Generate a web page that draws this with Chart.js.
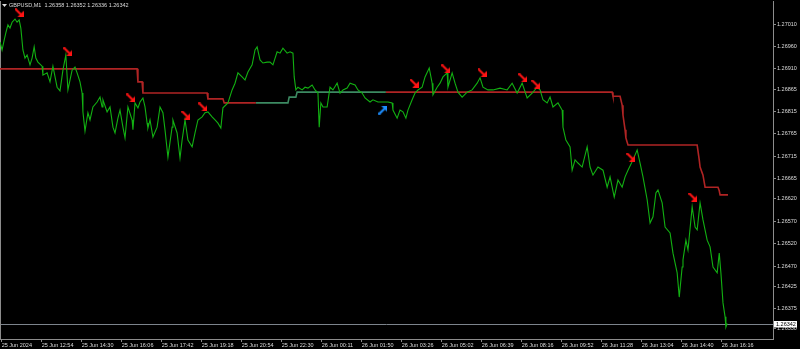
<!DOCTYPE html>
<html><head><meta charset="utf-8">
<script src="https://cdn.jsdelivr.net/npm/chart.js@4.4.0/dist/chart.umd.min.js"></script>
<style>html,body{margin:0;padding:0;background:#000;overflow:hidden}#wrap{position:relative;width:800px;height:349px}</style>
</head><body><div id="wrap"><canvas id="c"></canvas></div>
<script>
// ---- data (minutes from first bar, prices) ----
const symbol = 'GBPUSD,M1';
const ohlc = ['1.26358', '1.26352', '1.26336', '1.26342'];
const bidPrice = 1.26342;

const closeTime = [0,5,10,14,19,24,29,36,41,46,50,55,60,65,72,77,82,86,91,101,103,113,120,127,137,144,151,158,163,173,180,185,192,197,199,204,211,216,223,233,240,245,247,257,264,271,276,283,288,295,300,307,317,319,324,331,336,343,348,353,355,360,367,377,384,391,396,403,413,415,425,432,437,444,451,461,468,475,485,492,499,509,516,523,530,535,547,557,564,571,581,588,595,605,612,617,624,631,641,648,655,665,672,679,689,696,703,706,710,715,725,732,739,749,756,763,766,770,775,785,792,799,809,816,823,833,840,852,859,869,876,888,895,907,919,931,941,943,953,960,967,974,979,989,996,1003,1013,1020,1030,1037,1039,1049,1056,1063,1073,1075,1085,1092,1099,1109,1121,1133,1145,1152,1159,1171,1183,1200,1217,1229,1241,1253,1265,1277,1289,1296,1303,1313,1320,1327,1339,1349,1351,1358,1368,1373,1380,1387,1397,1409,1416,1423,1435,1447,1457,1464,1474,1483,1493,1500,1507,1519,1529,1536,1543,1553,1560,1567,1574,1579,1589,1596,1608,1615,1625,1630,1637,1639,1646,1651,1661,1668,1673,1680,1687,1697,1704,1711,1721,1726,1730,1735,1740,1742,1745];
const closePrice = [1.26970,1.26952,1.26974,1.26990,1.27008,1.27001,1.27014,1.27021,1.27014,1.27019,1.27001,1.26952,1.26934,1.26941,1.26919,1.26934,1.26959,1.26934,1.26925,1.26916,1.26896,1.26901,1.26881,1.26916,1.26869,1.26861,1.26907,1.26941,1.26863,1.26907,1.26914,1.26901,1.26881,1.26856,1.26814,1.26771,1.26812,1.26796,1.26825,1.26836,1.26847,1.26825,1.26841,1.26814,1.26825,1.26780,1.26767,1.26800,1.26818,1.26780,1.26756,1.26825,1.26796,1.26774,1.26834,1.26823,1.26836,1.26845,1.26825,1.26789,1.26778,1.26796,1.26758,1.26780,1.26825,1.26812,1.26774,1.26713,1.26780,1.26796,1.26767,1.26711,1.26751,1.26796,1.26751,1.26736,1.26767,1.26796,1.26803,1.26812,1.26814,1.26803,1.26796,1.26789,1.26778,1.26823,1.26834,1.26863,1.26878,1.26901,1.26892,1.26885,1.26903,1.26919,1.26952,1.26959,1.26930,1.26923,1.26925,1.26925,1.26919,1.26948,1.26945,1.26956,1.26945,1.26948,1.26945,1.26892,1.26863,1.26869,1.26863,1.26869,1.26867,1.26874,1.26863,1.26856,1.26780,1.26834,1.26825,1.26825,1.26869,1.26863,1.26878,1.26856,1.26863,1.26867,1.26878,1.26874,1.26863,1.26856,1.26845,1.26836,1.26841,1.26836,1.26836,1.26836,1.26834,1.26818,1.26800,1.26818,1.26814,1.26800,1.26818,1.26841,1.26856,1.26863,1.26869,1.26892,1.26912,1.26878,1.26852,1.26869,1.26878,1.26892,1.26901,1.26869,1.26901,1.26878,1.26858,1.26847,1.26858,1.26863,1.26878,1.26890,1.26869,1.26863,1.26863,1.26867,1.26863,1.26878,1.26856,1.26878,1.26845,1.26856,1.26869,1.26863,1.26841,1.26834,1.26847,1.26825,1.26834,1.26818,1.26780,1.26751,1.26736,1.26684,1.26707,1.26700,1.26691,1.26736,1.26691,1.26673,1.26691,1.26684,1.26646,1.26669,1.26624,1.26662,1.26646,1.26669,1.26684,1.26707,1.26729,1.26700,1.26669,1.26618,1.26566,1.26580,1.26633,1.26640,1.26611,1.26557,1.26544,1.26499,1.26455,1.26401,1.26468,1.26484,1.26528,1.26506,1.26602,1.26557,1.26551,1.26611,1.26573,1.26528,1.26513,1.26468,1.26455,1.26499,1.26455,1.26388,1.26357,1.26334,1.26342];

// trailing stop line (down-trend parts red, up-trend part green)
const trailDownTime1 = [0,329,331,341,343,497,499,535,538,614];
const trailDownPrice1 = [1.26910,1.26910,1.26881,1.26881,1.26856,1.26856,1.26843,1.26843,1.26834,1.26834];
const trailUpTime = [614,691,694,710,713,926];
const trailUpPrice = [1.26834,1.26834,1.26847,1.26847,1.26858,1.26858];
const trailDownTime2 = [926,1469,1471,1488,1493,1495,1500,1502,1507,1673,1678,1680,1687,1692,1723,1726,1728,1747];
const trailDownPrice2 = [1.26858,1.26858,1.26849,1.26849,1.26829,1.26807,1.26774,1.26756,1.26740,1.26740,1.26707,1.26691,1.26673,1.26646,1.26646,1.26638,1.26629,1.26629];

// signal arrows
const sellTime = [46,163,314,446,487,994,1070,1157,1255,1286,1514,1663];
const sellPrice = [1.27035,1.26948,1.26845,1.26807,1.26825,1.26878,1.26910,1.26901,1.26890,1.26876,1.26713,1.26624];
const buyTime = [919];
const buyPrice = [1.26818];

// axes
const xTickTime = [4,100,196,292,388,484,580,676,772,868,964,1060,1156,1252,1348,1444,1540,1636,1732];
const xTickLabels = ['25 Jun 2024','25 Jun 12:54','25 Jun 14:30','25 Jun 16:06','25 Jun 17:42','25 Jun 19:18','25 Jun 20:54','25 Jun 22:30','26 Jun 00:11','26 Jun 01:50','26 Jun 03:26','26 Jun 05:02','26 Jun 06:39','26 Jun 08:16','26 Jun 09:52','26 Jun 11:28','26 Jun 13:04','26 Jun 14:40','26 Jun 16:16'];
const yTickValues = [1.27010,1.26960,1.26910,1.26865,1.26815,1.26765,1.26715,1.26665,1.26620,1.26570,1.26520,1.26470,1.26425,1.26375,1.26330];

// ---- helpers ----
const pts = (xs, ys) => xs.map((x, i) => ({x: x, y: ys[i]}));
function arrowImg(color, up) {
  const c = document.createElement('canvas');
  c.width = 9; c.height = 9;
  const g = c.getContext('2d');
  g.fillStyle = color; g.strokeStyle = color; g.lineWidth = 2.2; g.lineCap = 'square';
  g.beginPath();
  if (!up) { g.moveTo(1.2, 1.2); g.lineTo(5.5, 5.5); } else { g.moveTo(1.2, 7.8); g.lineTo(5.5, 3.5); }
  g.stroke();
  g.beginPath();
  if (!up) { g.moveTo(9, 2.5); g.lineTo(9, 9); g.lineTo(2.5, 9); }
  else { g.moveTo(2.5, 0); g.lineTo(9, 0); g.lineTo(9, 6.5); }
  g.closePath(); g.fill();
  return c;
}
const FONT = {family: '"Liberation Sans", Arial, sans-serif', size: 5.5};
const AXIS_GRAY = '#8c8c8c';
const TEXT = '#dcdcdc';

const decor = {
  id: 'decor',
  beforeDatasetsDraw(chart) {
    const {ctx, chartArea: a, scales: {y}} = chart;
    const py = Math.round(y.getPixelForValue(bidPrice)) + 0.5;
    ctx.save();
    ctx.strokeStyle = '#7d848c'; ctx.lineWidth = 1;
    ctx.beginPath(); ctx.moveTo(a.left, py); ctx.lineTo(a.right, py); ctx.stroke();
    ctx.strokeStyle = AXIS_GRAY;
    ctx.beginPath(); ctx.moveTo(a.left + 0.5, a.top); ctx.lineTo(a.left + 0.5, a.bottom); ctx.stroke();
    ctx.restore();
  },
  afterDraw(chart) {
    const {ctx, chartArea: a, scales: {y}} = chart;
    const py = Math.round(y.getPixelForValue(bidPrice));
    ctx.save();
    ctx.fillStyle = '#ffffff';
    ctx.fillRect(a.right + 1, py - 3, 23, 6.5);
    ctx.fillStyle = '#000000';
    ctx.font = FONT.size + 'px ' + FONT.family;
    ctx.textBaseline = 'middle'; ctx.textAlign = 'left';
    ctx.fillText(bidPrice.toFixed(5), a.right + 3, py + 0.3);
    // header
    ctx.fillStyle = TEXT;
    ctx.beginPath(); ctx.moveTo(2, 4); ctx.lineTo(7, 4); ctx.lineTo(4.5, 7); ctx.closePath(); ctx.fill();
    ctx.fillText(symbol + '  ' + ohlc.join(' '), 9, 5.5);
    ctx.restore();
  }
};

new Chart(document.getElementById('c'), {
  type: 'line',
  data: {
    datasets: [
      {label: 'sell', data: pts(sellTime, sellPrice), showLine: false, pointStyle: arrowImg('#ff1414', false), pointRadius: 4, pointHoverRadius: 4},
      {label: 'buy', data: pts(buyTime, buyPrice), showLine: false, pointStyle: arrowImg('#1e8fff', true), pointRadius: 4, pointHoverRadius: 4},
      {label: 'close', data: pts(closeTime, closePrice), borderColor: '#12b012', borderWidth: 1.1, pointRadius: 0, tension: 0},
      {label: 'trailDown1', data: pts(trailDownTime1, trailDownPrice1), borderColor: '#b02424', borderWidth: 1.6, pointRadius: 0, tension: 0},
      {label: 'trailUp', data: pts(trailUpTime, trailUpPrice), borderColor: '#3c8a62', borderWidth: 1.6, pointRadius: 0, tension: 0},
      {label: 'trailDown2', data: pts(trailDownTime2, trailDownPrice2), borderColor: '#b02424', borderWidth: 1.6, pointRadius: 0, tension: 0}
    ]
  },
  options: {
    responsive: true, maintainAspectRatio: false, animation: false,
    events: [],
    layout: {autoPadding: false, padding: {top: 1, left: 0, right: 0, bottom: 0}},
    plugins: {legend: {display: false}, tooltip: {enabled: false}, title: {display: false}},
    scales: {
      x: {
        type: 'linear', position: 'bottom', min: 0, max: 1855, bounds: 'data',
        grid: {drawOnChartArea: false, drawTicks: true, tickLength: 3, color: AXIS_GRAY},
        border: {display: true, color: AXIS_GRAY},
        ticks: {autoSkip: false, maxRotation: 0, minRotation: 0, align: 'start', padding: 0, color: TEXT, font: FONT,
                callback: (v, i) => xTickLabels[i]},
        afterBuildTicks: s => { s.ticks = xTickTime.map(v => ({value: v})); },
        afterFit: s => { s.height = 10; s.paddingLeft = 0; s.paddingRight = 0; }
      },
      y: {
        type: 'linear', position: 'right', min: 1.263075, max: 1.270613, bounds: 'data',
        grid: {drawOnChartArea: false, drawTicks: true, tickLength: 3, color: AXIS_GRAY},
        border: {display: true, color: AXIS_GRAY},
        ticks: {autoSkip: false, padding: 1, color: TEXT, font: FONT, callback: v => Number(v).toFixed(5)},
        afterBuildTicks: s => { s.ticks = yTickValues.map(v => ({value: v})); },
        afterFit: s => { s.width = 27; s.paddingTop = 0; s.paddingBottom = 0; }
      }
    }
  },
  plugins: [decor]
});
</script></body></html>
